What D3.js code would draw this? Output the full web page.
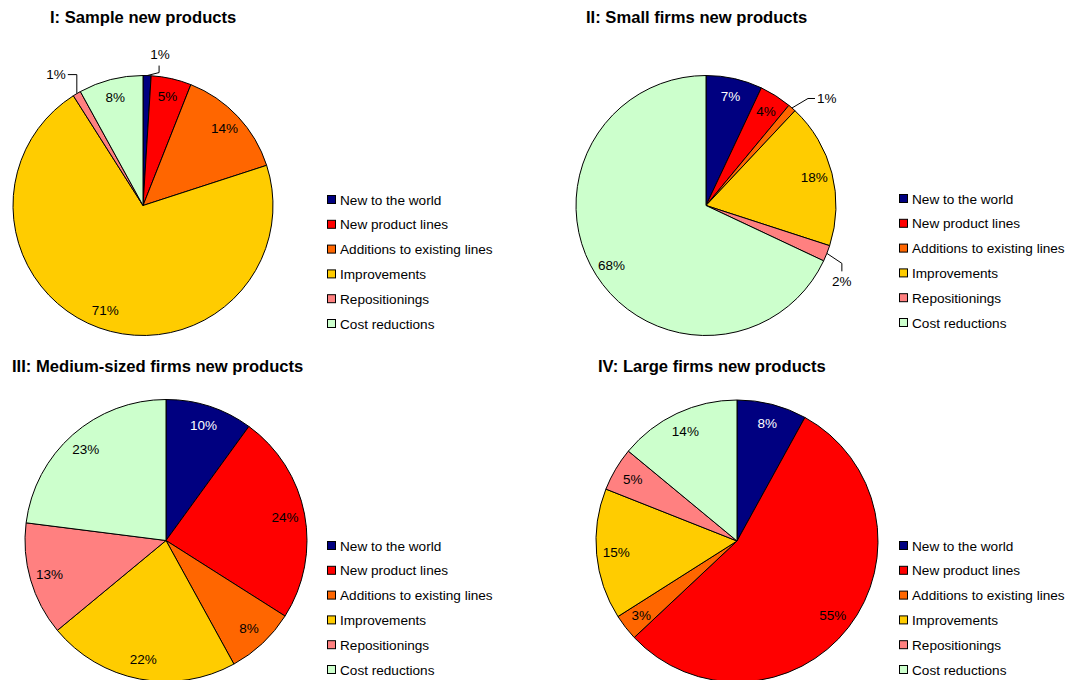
<!DOCTYPE html>
<html>
<head>
<meta charset="utf-8">
<script src="https://cdn.jsdelivr.net/npm/d3@7"></script>
<style>
  html, body { margin: 0; padding: 0; background: #fff; }
  svg { display: block; font-family: "Liberation Sans", Arial, sans-serif; }
</style>
</head>
<body>
<svg id="chart" width="1071" height="680"></svg>
<script>
// ---- data ----
const categories = ["New to the world", "New product lines", "Additions to existing lines",
                    "Improvements", "Repositionings", "Cost reductions"];
const titles = ["I: Sample new products", "II: Small firms new products",
                "III: Medium-sized firms new products", "IV: Large firms new products"];
const sampleValues = [1, 5, 14, 71, 1, 8];
const smallValues  = [7, 4, 1, 18, 2, 68];
const mediumValues = [10, 24, 8, 22, 13, 23];
const largeValues  = [8, 55, 3, 15, 5, 14];

// ---- styles / layout ----
const colors = ["#000080", "#FF0000", "#FF6600", "#FFCC00", "#FF8080", "#CCFFCC"];
const labelColors = ["#FFFFFF", "#000000", "#000000", "#000000", "#000000", "#000000"];

const panels = [
  { values: sampleValues, title: titles[0], tx: 50, ty: 23, cx: 143, cy: 205.5, r: 130, lx: 327, ly: 200,
    outside: { 0: { pts: [[12, -3], [12, -10]], text: [13, -21], anchor: "middle" },
               4: { pts: [[0, -19], [-9, -19]], text: [-11, -19], anchor: "end" } } },
  { values: smallValues, title: titles[1], tx: 586, ty: 23, cx: 706, cy: 205.5, r: 130, lx: 899, ly: 199,
    outside: { 2: { pts: [[16, -9.5], [23, -9.5]], text: [25, -9.5], anchor: "start" },
               4: { pts: [[15, 10], [15, 18]], text: [15, 28], anchor: "middle" } } },
  { values: mediumValues, title: titles[2], tx: 12, ty: 372, cx: 166, cy: 540.5, r: 141, lx: 327, ly: 546, outside: {} },
  { values: largeValues, title: titles[3], tx: 598, ty: 372, cx: 737, cy: 541, r: 141, lx: 899, ly: 546, outside: {} }
];

const svg = d3.select("#chart");
const pie = d3.pie().sort(null).value(d => d);

panels.forEach(p => {
  const g = svg.append("g");
  // title
  g.append("text")
    .attr("x", p.tx).attr("y", p.ty)
    .attr("font-size", 16.6).attr("font-weight", "bold").attr("fill", "#000")
    .text(p.title);

  const arcs = pie(p.values);
  const arc = d3.arc().innerRadius(0).outerRadius(p.r);
  const labelArc = d3.arc().innerRadius(p.r * 0.86).outerRadius(p.r * 0.86);
  const edgeArc = d3.arc().innerRadius(p.r).outerRadius(p.r);

  const pg = g.append("g").attr("transform", `translate(${p.cx},${p.cy})`);
  pg.selectAll("path.slice").data(arcs).join("path")
    .attr("class", "slice")
    .attr("d", arc)
    .attr("fill", (d, i) => colors[i])
    .attr("stroke", "#000").attr("stroke-width", 1).attr("stroke-linejoin", "round");

  arcs.forEach((d, i) => {
    const txt = d.data + "%";
    const o = p.outside[i];
    if (o) {
      const e = edgeArc.centroid(d);
      const pts = [e].concat(o.pts.map(q => [e[0] + q[0], e[1] + q[1]]));
      pg.append("path")
        .attr("d", d3.line()(pts))
        .attr("fill", "none").attr("stroke", "#000").attr("stroke-width", 1);
      pg.append("text")
        .attr("x", e[0] + o.text[0]).attr("y", e[1] + o.text[1])
        .attr("text-anchor", o.anchor).attr("dominant-baseline", "central")
        .attr("font-size", 13.5).attr("fill", "#000")
        .text(txt);
    } else {
      const c = labelArc.centroid(d);
      pg.append("text")
        .attr("x", c[0]).attr("y", c[1])
        .attr("text-anchor", "middle").attr("dominant-baseline", "central")
        .attr("font-size", 13.5).attr("fill", labelColors[i])
        .text(txt);
    }
  });

  // legend
  const step = 24.8;
  const lg = g.append("g").attr("transform", `translate(${p.lx},${p.ly})`);
  categories.forEach((c, i) => {
    lg.append("rect")
      .attr("x", 0.5).attr("y", i * step - 4.5)
      .attr("width", 8).attr("height", 8)
      .attr("fill", colors[i]).attr("stroke", "#000").attr("stroke-width", 1);
    lg.append("text")
      .attr("x", 13).attr("y", i * step)
      .attr("dominant-baseline", "central")
      .attr("font-size", 13.6).attr("fill", "#000")
      .text(c);
  });
});
</script>
</body>
</html>
